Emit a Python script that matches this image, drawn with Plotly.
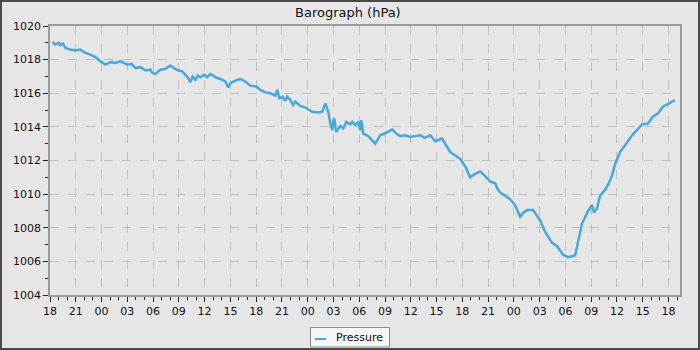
import pandas as pd
import plotly.graph_objects as go

start = "2024-03-01 18:00"
hours = [0.29, 0.6, 1.0, 1.22, 1.5, 1.8, 2.3, 2.97, 3.5, 4.13, 4.71, 5.29, 5.99, 6.46, 7.04, 7.6,
         8.2, 8.79, 9.01, 9.5, 9.95, 10.53, 11.11, 11.69, 11.92, 12.27, 12.85, 13.43, 14.02, 14.4,
         14.95, 15.4, 15.76, 16.1, 16.34, 16.6, 16.92, 17.2, 17.51, 17.97, 18.3, 18.67, 19.0, 19.25,
         19.83, 20.41, 20.76, 21.0, 21.58, 22.16, 22.74, 23.32, 24.02, 24.48, 25.06, 25.65, 26.23,
         26.46, 26.7, 27.04, 27.39, 27.6, 27.97, 28.3, 28.56, 29.14, 29.72, 30.07, 30.53, 31.23,
         31.7, 32.05, 32.2, 32.4, 32.63, 32.86, 33.0, 33.1, 33.3, 33.44, 33.79, 34.14, 34.49, 34.95,
         35.2, 35.53, 35.88, 36.1, 36.23, 36.47, 37.05, 37.86, 38.44, 39.14, 39.84, 40.3, 40.77,
         41.3, 41.93, 42.5, 43.1, 43.6, 44.26, 44.84, 45.65, 46.59, 47.2, 47.75, 48.4, 48.91, 49.5,
         50.07, 50.6, 51.24, 51.82, 52.1, 52.4, 53.0, 53.56, 54.14, 54.72, 55.1, 55.54, 56.24,
         57.05, 57.64, 58.45, 59.03, 59.73, 60.31, 61.13, 61.47, 61.94, 62.64, 63.1, 63.33, 63.68,
         64.03, 64.61, 64.96, 65.42, 65.77, 66.36, 66.94, 67.75, 68.33, 68.91, 69.61, 70.19, 70.77,
         71.35, 71.93, 72.74]
pressure = [1019.05, 1018.9, 1019.0, 1018.85, 1018.95, 1018.7, 1018.6, 1018.55, 1018.6, 1018.4,
            1018.3, 1018.15, 1017.85, 1017.7, 1017.85, 1017.8, 1017.9, 1017.75, 1017.7, 1017.75,
            1017.5, 1017.55, 1017.35, 1017.4, 1017.2, 1017.15, 1017.4, 1017.45, 1017.65, 1017.5,
            1017.35, 1017.3, 1017.1, 1016.9, 1016.65, 1017.0, 1016.8, 1017.05, 1016.95, 1017.1,
            1016.95, 1017.15, 1017.05, 1016.95, 1016.85, 1016.7, 1016.35, 1016.6, 1016.75, 1016.85,
            1016.7, 1016.45, 1016.4, 1016.2, 1016.05, 1016.0, 1015.85, 1016.2, 1015.7, 1015.8,
            1015.55, 1015.8, 1015.6, 1015.3, 1015.5, 1015.25, 1015.15, 1015.05, 1014.9, 1014.85,
            1014.9, 1015.4, 1015.2, 1014.9, 1014.2, 1013.8, 1014.4, 1014.5, 1013.7, 1013.8,
            1014.05, 1013.9, 1014.3, 1014.15, 1014.3, 1014.1, 1014.3, 1013.8, 1014.4, 1013.6,
            1013.45, 1013.0, 1013.5, 1013.65, 1013.85, 1013.6, 1013.45, 1013.5, 1013.4, 1013.45,
            1013.5, 1013.35, 1013.5, 1013.15, 1013.3, 1012.5, 1012.3, 1012.1, 1011.6, 1011.0,
            1011.2, 1011.35, 1011.1, 1010.75, 1010.65, 1010.3, 1010.1, 1009.9, 1009.7, 1009.35,
            1008.65, 1008.9, 1009.05, 1009.05, 1008.45, 1007.75, 1007.1, 1006.9, 1006.4, 1006.25,
            1006.35, 1007.15, 1008.25, 1009.0, 1009.35, 1008.9, 1009.15, 1009.9, 1010.25, 1010.55,
            1011.1, 1011.75, 1012.5, 1012.9, 1013.5, 1013.8, 1014.15, 1014.2, 1014.6, 1014.8,
            1015.2, 1015.35, 1015.6]
x_end_hours = 73.34
title_text = "Barograph (hPa)"
legend_label = "Pressure"

t0 = pd.Timestamp(start)
times = [t0 + pd.Timedelta(hours=h) for h in hours]
t_end = t0 + pd.Timedelta(hours=x_end_hours)

W, H = 700, 350
L, R, T, B = 50, 20, 26, 55
pw, ph = W - L - R, H - T - B
def px(x):
    return (x - L) / pw
def py(y):
    return (H - B - y) / ph

line_color = "#48a8da"
fig = go.Figure()
fig.add_trace(go.Scatter(x=times, y=pressure, mode="lines", name=legend_label,
                         line=dict(color=line_color, width=2.5), showlegend=False))

font = dict(family="DejaVu Sans", size=11, color="#111111")
axis_common = dict(showline=True, linecolor="#9a9a9a", linewidth=1.5, mirror=True,
                   ticks="outside", ticklen=5, tickcolor="#222222", tickwidth=1,
                   showgrid=True, gridcolor="#bfbfbf", gridwidth=1, griddash="dash",
                   zeroline=False, tickfont=font)
fig.update_xaxes(type="date", range=[t0, t_end], tick0=t0, dtick=3 * 3600000,
                 tickformat="%H", minor=dict(dtick=3600000, ticklen=3, tickcolor="#222222",
                                              ticks="outside", showgrid=False),
                 **axis_common)
fig.update_yaxes(range=[1004, 1020], dtick=2, tick0=1004,
                 minor=dict(dtick=1, ticklen=3, tickcolor="#222222", ticks="outside", showgrid=False),
                 **axis_common)

shapes = [
    dict(type="rect", xref="paper", yref="paper", x0=px(1), x1=px(699), y0=py(349), y1=py(1),
         line=dict(color="#4a4a4a", width=2), fillcolor="rgba(0,0,0,0)", layer="above"),
    dict(type="rect", xref="paper", yref="paper", x0=px(310.5), x1=px(389.5), y0=py(347), y1=py(327.5),
         line=dict(color="#8a8a8a", width=1), fillcolor="#f6f6f6"),
    dict(type="line", xref="paper", yref="paper", x0=px(315), x1=px(326), y0=py(339), y1=py(339),
         line=dict(color=line_color, width=2)),
]
annotations = [
    dict(text=legend_label, xref="paper", yref="paper", x=px(334), y=py(337.5), xanchor="left",
         yanchor="middle", showarrow=False, font=font),
    dict(text=title_text, xref="paper", yref="paper", x=px(348), y=py(12), xanchor="center",
         yanchor="middle", showarrow=False, font=dict(family="DejaVu Sans", size=13, color="#111111")),
]
fig.update_layout(width=W, height=H, margin=dict(l=L, r=R, t=T, b=B, autoexpand=False),
                  paper_bgcolor="#e6e6e6", plot_bgcolor="#e6e6e6", shapes=shapes,
                  annotations=annotations, showlegend=False)
fig.write_html("out.html")
